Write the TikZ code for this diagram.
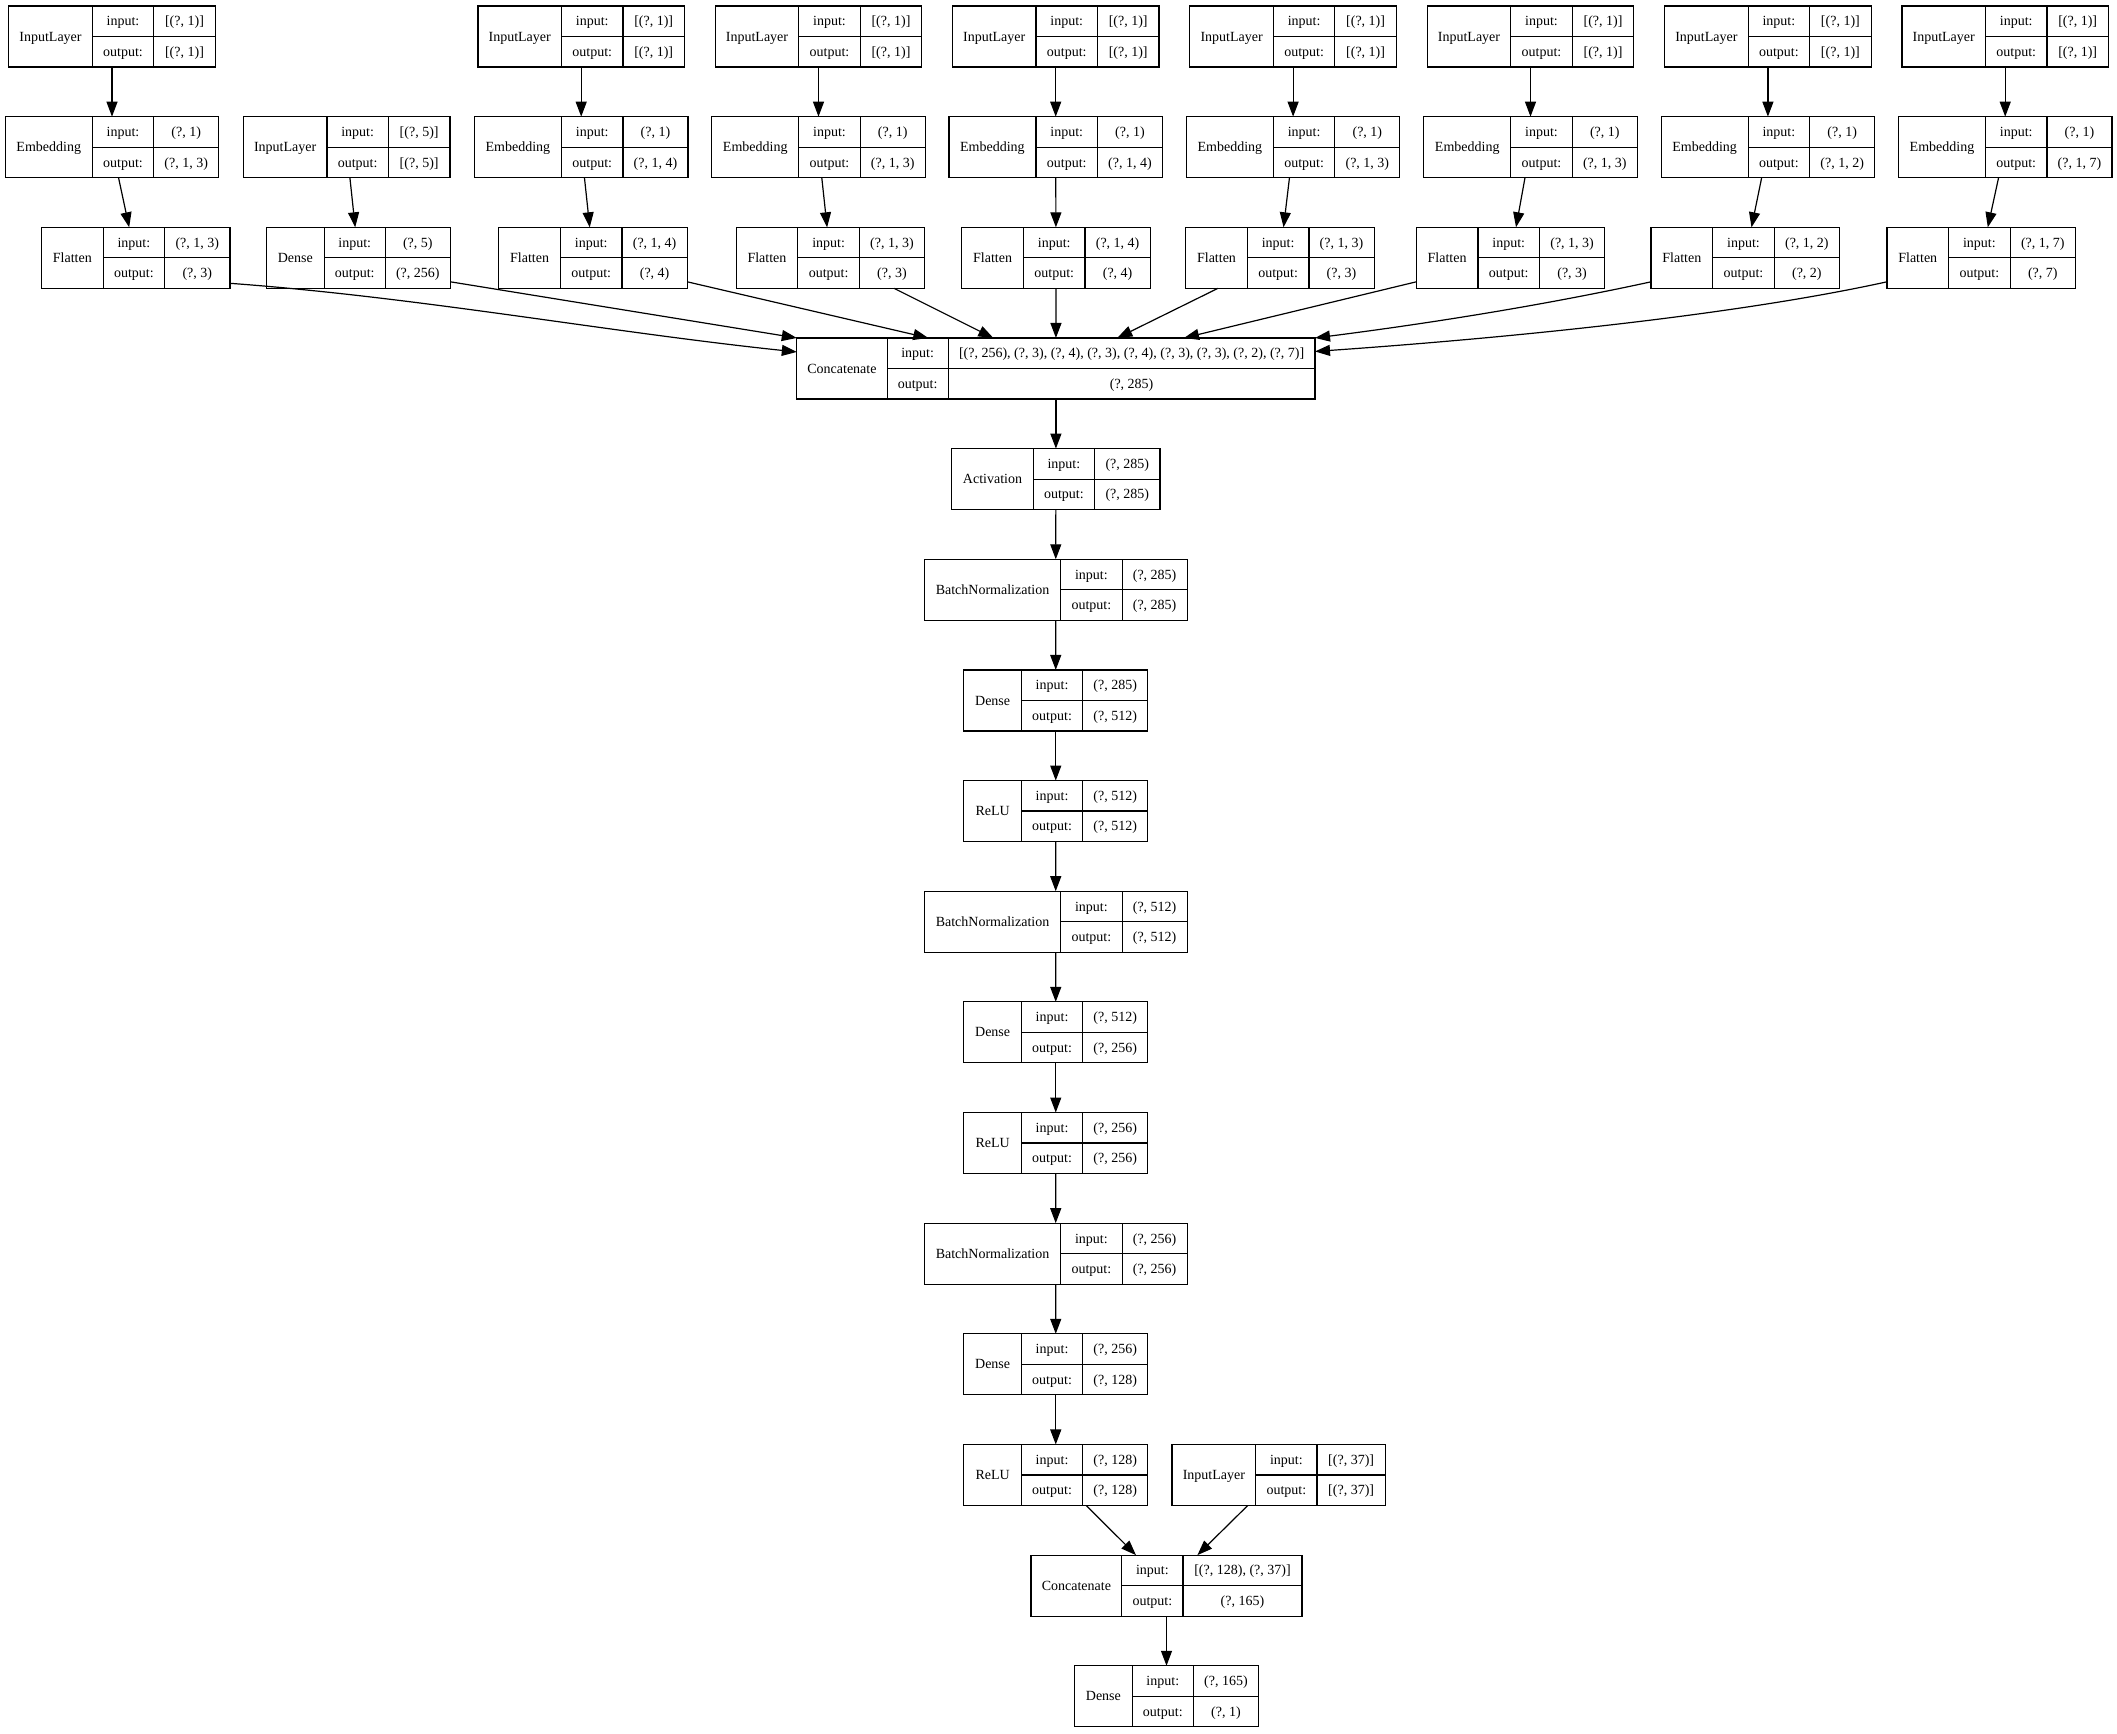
\documentclass[tikz,border=0pt]{standalone}
\usepackage{fontspec}
\setmainfont{Liberation Serif}
\usetikzlibrary{arrows.meta,calc}
\newcommand\typeIL{\def\LYoa{-103.25}\def\LYob{-19.75}\def\LYoc{41.75}\def\LYod{103.25}}
\newcommand\typeEM{\def\LYoa{-106.75}\def\LYob{-19.75}\def\LYoc{41.75}\def\LYod{106.75}}
\newcommand\typeFL{\def\LYoa{-94.2}\def\LYob{-32.6}\def\LYoc{29}\def\LYod{94.2}}
\newcommand\typeDN{\def\LYoa{-91.9}\def\LYob{-34.3}\def\LYoc{26.9}\def\LYod{91.9}}
\newcommand\typeAC{\def\LYoa{-104.1}\def\LYob{-22.7}\def\LYoc{38.7}\def\LYod{104.1}}
\newcommand\typeBN{\def\LYoa{-131.4}\def\LYob{5}\def\LYoc{66.4}\def\LYod{131.4}}
\newcommand\typeCA{\def\LYoa{-259.1}\def\LYob{-168.8}\def\LYoc{-107.7}\def\LYod{259.1}}
\newcommand\typeCB{\def\LYoa{-135.5}\def\LYob{-44.8}\def\LYoc{16.5}\def\LYod{135.5}}
\newcommand\typeIB{\def\LYoa{-106.65}\def\LYob{-22.95}\def\LYoc{38.35}\def\LYod{106.65}}
\newcommand\lyr[7]{%
  \csname type#4\endcsname
  \pgfmathsetmacro\LYt{6+110.65*#3}%
  \pgfmathsetmacro\LYw{\LYod-\LYoa}%
  \pgfmathsetmacro\LYxa{#2+\LYoa}%
  \pgfmathsetmacro\LYxb{#2+\LYob}%
  \pgfmathsetmacro\LYxc{#2+\LYoc}%
  \pgfmathsetmacro\LYxd{#2+\LYod}%
  \pgfmathsetmacro\LYym{\LYt+30.5}%
  \pgfmathsetmacro\LYyb{\LYt+61}%
  \pgfmathsetmacro\LYyu{\LYt+15.25}%
  \pgfmathsetmacro\LYyl{\LYt+45.75}%
  \node[lbox, minimum width=\LYw pt, anchor=north west] (#1) at (\LYxa,\LYt) {};
  \draw[lline] (\LYxb,\LYt) -- (\LYxb,\LYyb) (\LYxc,\LYt) -- (\LYxc,\LYyb) (\LYxb,\LYym) -- (\LYxd,\LYym);
  \node[txt] (#1-t) at ({(\LYxa+\LYxb)/2},\LYym) {#5};
  \node[txt] (#1-il) at ({(\LYxb+\LYxc)/2},\LYyu) {input:};
  \node[txt] (#1-iv) at ({(\LYxc+\LYxd)/2},\LYyu) {#6};
  \node[txt] (#1-ol) at ({(\LYxb+\LYxc)/2},\LYyl) {output:};
  \node[txt] (#1-ov) at ({(\LYxc+\LYxd)/2},\LYyl) {#7};
}
\begin{document}
\begin{tikzpicture}[x=1pt,y=-1pt,
  lbox/.style={draw=black, line width=1.2pt, rectangle, minimum height=61pt, inner sep=0pt, outer sep=0pt},
  lline/.style={draw=black, line width=1.2pt},
  txt/.style={inner sep=0pt, text height=9.6pt, text depth=0.4pt, font=\fontsize{14}{16}\selectfont},
  edge/.style={draw=black, line width=1.2pt, -{Triangle[length=15pt,width=11pt]}}]
\path[fill=white, use as bounding box] (0,0) rectangle (2117,1733);
% row 0
\lyr{IL1}{112}{0}{IL}{InputLayer}{[(?, 1)]}{[(?, 1)]}
\lyr{IL2}{581.2}{0}{IL}{InputLayer}{[(?, 1)]}{[(?, 1)]}
\lyr{IL3}{818.5}{0}{IL}{InputLayer}{[(?, 1)]}{[(?, 1)]}
\lyr{IL4}{1055.7}{0}{IL}{InputLayer}{[(?, 1)]}{[(?, 1)]}
\lyr{IL5}{1293.1}{0}{IL}{InputLayer}{[(?, 1)]}{[(?, 1)]}
\lyr{IL6}{1530.5}{0}{IL}{InputLayer}{[(?, 1)]}{[(?, 1)]}
\lyr{IL7}{1767.9}{0}{IL}{InputLayer}{[(?, 1)]}{[(?, 1)]}
\lyr{IL8}{2005.2}{0}{IL}{InputLayer}{[(?, 1)]}{[(?, 1)]}
% row 1
\lyr{E1}{112}{1}{EM}{Embedding}{(?, 1)}{(?, 1, 3)}
\lyr{I5}{346.65}{1}{IL}{InputLayer}{[(?, 5)]}{[(?, 5)]}
\lyr{E2}{581.2}{1}{EM}{Embedding}{(?, 1)}{(?, 1, 4)}
\lyr{E3}{818.5}{1}{EM}{Embedding}{(?, 1)}{(?, 1, 3)}
\lyr{E4}{1055.7}{1}{EM}{Embedding}{(?, 1)}{(?, 1, 4)}
\lyr{E5}{1293.1}{1}{EM}{Embedding}{(?, 1)}{(?, 1, 3)}
\lyr{E6}{1530.5}{1}{EM}{Embedding}{(?, 1)}{(?, 1, 3)}
\lyr{E7}{1767.9}{1}{EM}{Embedding}{(?, 1)}{(?, 1, 2)}
\lyr{E8}{2005.2}{1}{EM}{Embedding}{(?, 1)}{(?, 1, 7)}
% row 2
\lyr{F1}{135.7}{2}{FL}{Flatten}{(?, 1, 3)}{(?, 3)}
\lyr{D5}{358.45}{2}{DN}{Dense}{(?, 5)}{(?, 256)}
\lyr{F2}{593}{2}{FL}{Flatten}{(?, 1, 4)}{(?, 4)}
\lyr{F3}{830.4}{2}{FL}{Flatten}{(?, 1, 3)}{(?, 3)}
\lyr{F4}{1056}{2}{FL}{Flatten}{(?, 1, 4)}{(?, 4)}
\lyr{F5}{1279.9}{2}{FL}{Flatten}{(?, 1, 3)}{(?, 3)}
\lyr{F6}{1510.5}{2}{FL}{Flatten}{(?, 1, 3)}{(?, 3)}
\lyr{F7}{1745.25}{2}{FL}{Flatten}{(?, 1, 2)}{(?, 2)}
\lyr{F8}{1981.15}{2}{FL}{Flatten}{(?, 1, 7)}{(?, 7)}
% middle column
\lyr{C1}{1055.9}{3}{CA}{Concatenate}{[(?, 256), (?, 3), (?, 4), (?, 3), (?, 4), (?, 3), (?, 3), (?, 2), (?, 7)]}{(?, 285)}
\lyr{A1}{1055.9}{4}{AC}{Activation}{(?, 285)}{(?, 285)}
\lyr{B1}{1055.7}{5}{BN}{BatchNormalization}{(?, 285)}{(?, 285)}
\lyr{D1}{1055.75}{6}{DN}{Dense}{(?, 285)}{(?, 512)}
\lyr{R1}{1055.75}{7}{DN}{ReLU}{(?, 512)}{(?, 512)}
\lyr{B2}{1055.7}{8}{BN}{BatchNormalization}{(?, 512)}{(?, 512)}
\lyr{D2}{1055.75}{9}{DN}{Dense}{(?, 512)}{(?, 256)}
\lyr{R2}{1055.75}{10}{DN}{ReLU}{(?, 256)}{(?, 256)}
\lyr{B3}{1055.7}{11}{BN}{BatchNormalization}{(?, 256)}{(?, 256)}
\lyr{D3}{1055.75}{12}{DN}{Dense}{(?, 256)}{(?, 128)}
\lyr{R3}{1055.75}{13}{DN}{ReLU}{(?, 128)}{(?, 128)}
\lyr{I37}{1278.65}{13}{IB}{InputLayer}{[(?, 37)]}{[(?, 37)]}
\lyr{C2}{1166.5}{14}{CB}{Concatenate}{[(?, 128), (?, 37)]}{(?, 165)}
\lyr{DF}{1166.5}{15}{DN}{Dense}{(?, 165)}{(?, 1)}
% edges: inputs to embeddings to flatten
\foreach \i in {1,...,8} {
  \draw[edge] (IL\i) -- (E\i);
  \draw[edge] (E\i) -- (F\i);
}
\draw[edge] (I5) -- (D5);
% edges into first Concatenate
\draw[edge] ($(F1.south east)+(0,-5)$) .. controls +(190,14) and +(-190,-20) .. ($(C1.north west)+(0,14)$);
\draw[edge] ($(D5.south east)+(0,-6.5)$) -- (C1.north west);
\draw[edge] ($(F2.south east)+(0,-6.5)$) -- ($(C1.north west)+(131.5,0)$);
\draw[edge] ($(F3.south east)+(-30.6,0)$) -- ($(C1.north west)+(196.5,0)$);
\draw[edge] (F4) -- (C1);
\draw[edge] ($(F5.south west)+(32.3,0)$) -- ($(C1.north west)+(320.5,0)$);
\draw[edge] ($(F6.south west)+(0,-6.5)$) -- ($(C1.north west)+(387.2,0)$);
\draw[edge] ($(F7.south west)+(0,-6.5)$) .. controls +(-110,24) and +(110,-14) .. (C1.north east);
\draw[edge] ($(F8.south west)+(0,-6.5)$) .. controls +(-150,33) and +(200,-14) .. ($(C1.north east)+(0,13.5)$);
% main chain
\draw[edge] (C1) -- (A1);
\draw[edge] (A1) -- (B1);
\draw[edge] (B1) -- (D1);
\draw[edge] (D1) -- (R1);
\draw[edge] (R1) -- (B2);
\draw[edge] (B2) -- (D2);
\draw[edge] (D2) -- (R2);
\draw[edge] (R2) -- (B3);
\draw[edge] (B3) -- (D3);
\draw[edge] (D3) -- (R3);
\draw[edge] (R3) -- (C2);
\draw[edge] (I37) -- (C2);
\draw[edge] (C2) -- (DF);
\end{tikzpicture}
\end{document}
